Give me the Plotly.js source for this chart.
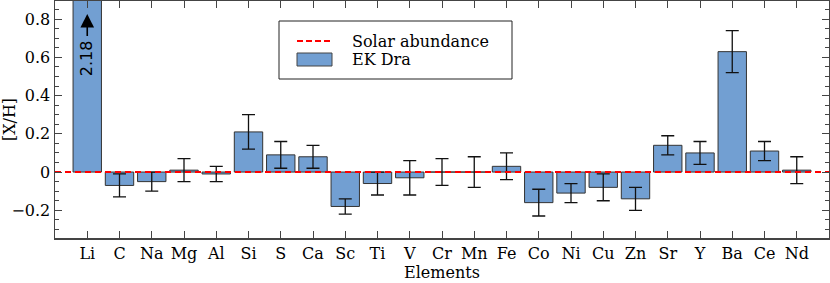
<!DOCTYPE html>
<html><head><meta charset="utf-8">
<script src="https://cdn.plot.ly/plotly-3.0.1.min.js"></script>
<style>html,body{margin:0;padding:0;background:#fff}#chart{width:830px;height:283px}</style>
</head><body><div id="chart"></div>
<script>
const elements = ["Li","C","Na","Mg","Al","Si","S","Ca","Sc","Ti","V","Cr","Mn","Fe","Co","Ni","Cu","Zn","Sr","Y","Ba","Ce","Nd"];
const abundance = [2.18,-0.07,-0.05,0.01,-0.01,0.21,0.09,0.08,-0.18,-0.06,-0.03,0.00,0.00,0.03,-0.16,-0.11,-0.08,-0.14,0.14,0.10,0.63,0.11,0.01];
const errors = [0,0.06,0.05,0.06,0.04,0.09,0.07,0.06,0.04,0.06,0.09,0.07,0.08,0.07,0.07,0.05,0.07,0.06,0.05,0.06,0.11,0.05,0.07];
const solarLevel = 0;
const liLabel = "2.18";
const yTickVals = [-0.2,0,0.2,0.4,0.6,0.8];

const idx = elements.map((e,i)=>i);
const xRange = [-1, elements.length];
const serif = "DejaVu Serif";
const fs = 16;

const traces = [
  {type:'bar', x: idx, y: abundance, width: 0.88, name:'EK Dra', showlegend:false,
   marker:{color:'#729fd2', line:{color:'#333', width:1}},
   error_y:{type:'data', array: errors, visible:true, color:'#111', thickness:1.3, width:6.5}},
  {type:'scatter', mode:'lines', x: xRange, y:[solarLevel, solarLevel], name:'Solar abundance', showlegend:false,
   line:{color:'#ff0000', width:2, dash:'6px,4px'}, hoverinfo:'skip'}
];

const axCol = '#444';
const layout = {
  width:830, height:283,
  margin:{l:55, r:1, t:1, b:45},
  paper_bgcolor:'#fff', plot_bgcolor:'#fff',
  font:{family: serif, size:fs, color:'#000'},
  showlegend:false,
  bargap:0,
  xaxis:{range: xRange, tickvals: idx, ticktext: elements, ticks:'inside', ticklen:7, tickcolor:axCol,
    showline:true, linecolor:axCol, linewidth:1.5, mirror:'allticks', showgrid:false, zeroline:false,
    tickfont:{family:serif, size:fs, color:'#000'}},
  yaxis:{range:[-0.345, 0.895], tickvals: yTickVals, ticks:'inside', ticklen:7, tickcolor:axCol,
    showline:true, linecolor:axCol, linewidth:1.5, mirror:'allticks', showgrid:false, zeroline:false,
    minor:{dtick:0.05, ticks:'inside', ticklen:4, tickcolor:axCol, showgrid:false},
    tickfont:{family:serif, size:fs, color:'#000'}, title:{text:'[X/H]', font:{family:serif, size:fs, color:'#000'}, standoff:5}},
  shapes:[
    {type:'rect', xref:'paper', yref:'paper', x0:(279-55)/774, x1:(512-55)/774, y0:(238-79)/237, y1:(238-21)/237,
     line:{color:'#222', width:1}, fillcolor:'#fff', layer:'above'},
    {type:'line', xref:'paper', yref:'paper', x0:(297-55)/774, x1:(333-55)/774, y0:(238-41)/237, y1:(238-41)/237,
     line:{color:'#ff0000', width:2, dash:'6px,3px'}, layer:'above'},
    {type:'rect', xref:'paper', yref:'paper', x0:(297-55)/774, x1:(332-55)/774, y0:(238-66)/237, y1:(238-53)/237,
     line:{color:'#444', width:1}, fillcolor:'#729fd2', layer:'above'}
  ],
  annotations:[
    {xref:'paper', yref:'paper', x:0.5, y:(238-272)/237, xanchor:'center', yanchor:'middle', showarrow:false,
     text:'Elements', font:{family:serif, size:fs, color:'#000'}},
    {xref:'paper', yref:'paper', x:(350-55)/774, y:(238-41)/237, xanchor:'left', yanchor:'middle', showarrow:false,
     text:'Solar abundance', font:{family:serif, size:fs, color:'#000'}},
    {xref:'paper', yref:'paper', x:(350-55)/774, y:(238-60)/237, xanchor:'left', yanchor:'middle', showarrow:false,
     text:'EK Dra', font:{family:serif, size:fs, color:'#000'}},
    {x:0, y:0.597, xref:'x', yref:'y', text: liLabel, textangle:-90, showarrow:false,
     font:{family:'DejaVu Sans', size:16, color:'#000'}},
    {x:0, y:0.827, xref:'x', yref:'y', text:' ', showarrow:true, ax:0, ay:33, arrowhead:2, arrowsize:1.7, arrowwidth:1.6, arrowcolor:'#000'}
  ]
};
Plotly.newPlot('chart', traces, layout, {displayModeBar:false, staticPlot:true});
</script></body></html>
